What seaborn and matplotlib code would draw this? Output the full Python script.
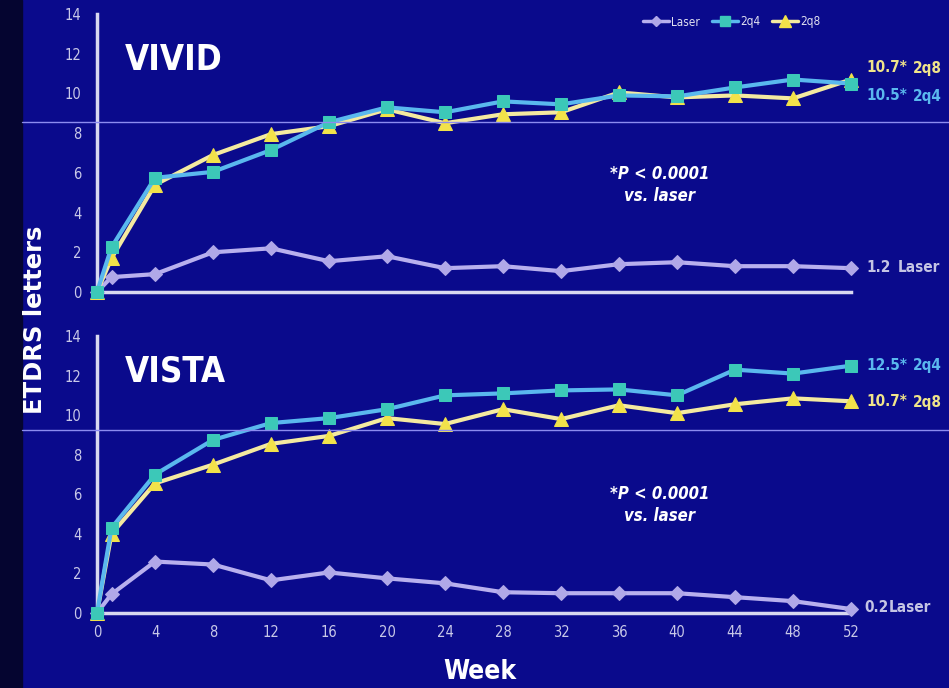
import numpy as np
import pandas as pd
import matplotlib
matplotlib.use("Agg")
import matplotlib.pyplot as plt
import seaborn as sns
from matplotlib.lines import Line2D

weeks = [0, 1, 4, 8, 12, 16, 20, 24, 28, 32, 36, 40, 44, 48, 52]

vivid_laser = [0, 0.75, 0.9, 2.0, 2.2, 1.55, 1.8, 1.2, 1.3, 1.05, 1.4, 1.5, 1.3, 1.3, 1.2]
vivid_2q4 = [0, 2.25, 5.75, 6.05, 7.15, 8.55, 9.3, 9.05, 9.6, 9.45, 9.9, 9.85, 10.3, 10.7, 10.5]
vivid_2q8 = [0, 1.7, 5.4, 6.9, 7.95, 8.35, 9.2, 8.5, 8.95, 9.05, 10.05, 9.8, 9.9, 9.75, 10.7]

vista_laser = [0, 0.95, 2.6, 2.45, 1.65, 2.05, 1.75, 1.5, 1.05, 1.0, 1.0, 1.0, 0.8, 0.6, 0.2]
vista_2q4 = [0, 4.3, 7.0, 8.75, 9.6, 9.85, 10.3, 11.0, 11.1, 11.25, 11.3, 11.0, 12.3, 12.1, 12.5]
vista_2q8 = [0, 4.0, 6.55, 7.5, 8.55, 8.95, 9.85, 9.55, 10.3, 9.8, 10.5, 10.1, 10.55, 10.85, 10.7]

series = ["Laser", "2q4", "2q8"]
x_ticks = [0, 4, 8, 12, 16, 20, 24, 28, 32, 36, 40, 44, 48, 52]
y_ticks = [0, 2, 4, 6, 8, 10, 12, 14]

BG = "#0a0a8c"
AX = "#d8d8f0"
colors = {"Laser": "#b0a8e8", "2q4": "#3cc8b8", "2q8": "#f2e24a"}
line_colors = {"Laser": "#b8b0ee", "2q4": "#5ab8ee", "2q8": "#f4eaa0"}
markers = {"Laser": "D", "2q4": "s", "2q8": "^"}
msize = {"Laser": 7, "2q4": 9, "2q8": 10}

sns.set_theme(style="white")
plt.rcParams['font.family'] = ['DejaVu Sans']
plt.rcParams['font.stretch'] = 'condensed'
COND = dict(family='DejaVu Sans', stretch='condensed')

def make_df(laser, q4, q8):
    rows = []
    for name, vals in zip(series, [laser, q4, q8]):
        for w, v in zip(weeks, vals):
            rows.append({"week": w, "value": v, "group": name})
    return pd.DataFrame(rows)

fig = plt.figure(figsize=(9.49, 6.88), dpi=100)
fig.patch.set_facecolor(BG)
W, H = 949, 688

fig.patches.append(plt.Rectangle((0, 0), 22 / W, 1, transform=fig.transFigure,
                                 color="#050530", zorder=0))

def add_axes(top, bottom):
    return fig.add_axes([97 / W, 1 - bottom / H, (851 - 97) / W, (bottom - top) / H])

ax1 = add_axes(14, 292)
ax2 = add_axes(336, 613)

panels = [(ax1, make_df(vivid_laser, vivid_2q4, vivid_2q8), "VIVID", False, 0.385),
          (ax2, make_df(vista_laser, vista_2q4, vista_2q8), "VISTA", True, 0.39)]

for ax, df, title, show_x, py in panels:
    ax.set_facecolor(BG)
    for name in ["Laser", "2q8", "2q4"]:
        sub = df[df["group"] == name]
        sns.lineplot(data=sub, x="week", y="value", ax=ax, color=line_colors[name],
                     linewidth=3, marker=markers[name], markersize=msize[name],
                     markerfacecolor=colors[name], markeredgecolor=colors[name],
                     legend=False, clip_on=False, zorder=3)
    ax.set_xlim(0, 52)
    ax.set_ylim(0, 14)
    ax.set_xticks(x_ticks)
    ax.set_yticks(y_ticks)
    ax.set_xlabel("")
    ax.set_ylabel("")
    for s in ["top", "right"]:
        ax.spines[s].set_visible(False)
    for s in ["left", "bottom"]:
        ax.spines[s].set_color(AX)
        ax.spines[s].set_linewidth(2.5)
    ax.tick_params(axis="both", colors=AX, length=5, width=2, direction="out",
                   labelsize=10.5, labelcolor="#c8c8e8")
    ax.tick_params(axis="y", pad=6)
    if not show_x:
        ax.tick_params(axis="x", labelbottom=False)
    for lab in ax.get_xticklabels() + ax.get_yticklabels():
        lab.set_fontstretch('condensed')
    ax.text(28 / 754, 0.895 if title == "VIVID" else 0.935, title, transform=ax.transAxes,
            fontsize=25, fontweight="bold", color="white", va="top", ha="left", **COND)
    ax.text((660 - 97) / 754, py, "*P < 0.0001\nvs. laser",
            transform=ax.transAxes, fontsize=12, fontweight="bold", fontstyle="italic",
            color="white", ha="center", va="center", linespacing=1.35, **COND)

def fy(y): return 1 - y / H
lab_kw = dict(fontsize=11, fontweight="bold", va="center", **COND)
YEL, BLU, LAV = "#f0e48a", "#5ab8ee", "#c4c4e4"
end_labels = [
    (866, 913, 68, "10.7*", "2q8", YEL),
    (866, 913, 96, "10.5*", "2q4", BLU),
    (866, 898, 267, "1.2", "Laser", LAV),
    (866, 913, 366, "12.5*", "2q4", BLU),
    (866, 913, 402, "10.7*", "2q8", YEL),
    (864, 889, 607, "0.2", "Laser", LAV),
]
for x1, x2, yy, num, name, col in end_labels:
    fig.text(x1 / W, fy(yy), num, color=col, **lab_kw)
    fig.text(x2 / W, fy(yy), name, color=col, **lab_kw)

fig.text(35 / W, fy(320), "ETDRS letters", rotation=90, color="white", fontsize=17.5,
         fontweight="bold", ha="center", va="center", family='DejaVu Sans', stretch='normal')
fig.text(480 / W, fy(672), "Week", color="white", fontsize=19, fontweight="bold",
         ha="center", va="center", **COND)

for yy in [122, 430]:
    fig.add_artist(Line2D([22 / W, 1], [fy(yy), fy(yy)], color="#8c8cf0", linewidth=1,
                          transform=fig.transFigure, zorder=5))

handles = [Line2D([0], [0], color=line_colors[n], linewidth=2.5, marker=markers[n],
                  markersize=msize[n] - 2, markerfacecolor=colors[n], markeredgecolor=colors[n])
           for n in series]
leg = fig.legend(handles, series, loc="center", bbox_to_anchor=(732 / W, fy(22)), ncol=3,
                 frameon=False, handlelength=2.2, handletextpad=0.2,
                 columnspacing=1.0, prop=dict(size=8.5, stretch='condensed', family='DejaVu Sans'))
for t in leg.get_texts():
    t.set_color("#e0e0f0")

fig.savefig("out.png", dpi=100, facecolor=BG)
